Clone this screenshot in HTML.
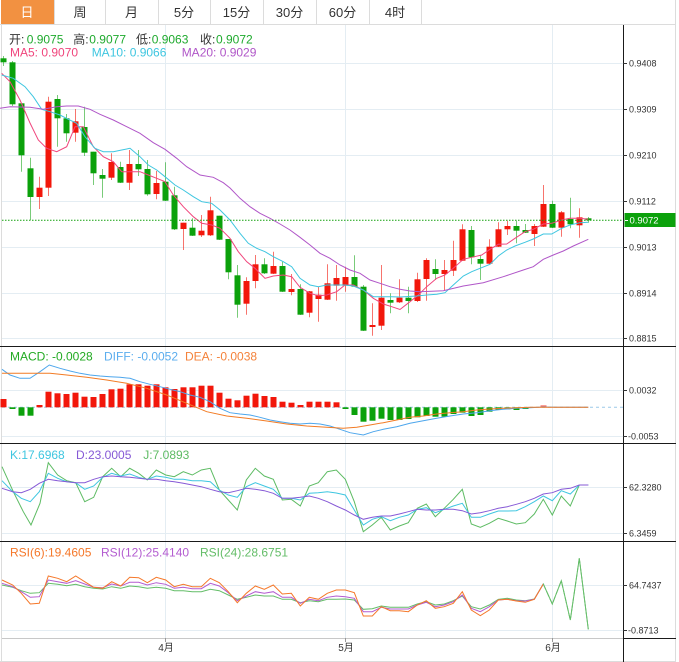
<!DOCTYPE html>
<html><head><meta charset="utf-8"><style>
html,body{margin:0;padding:0;background:#fff;}
svg{display:block;font-family:"Liberation Sans","Noto Sans CJK SC",sans-serif;}
</style></head><body>
<svg width="679" height="662" viewBox="0 0 679 662" xmlns="http://www.w3.org/2000/svg">
<rect x="0" y="0" width="679" height="662" fill="#fff"/>
<!-- tabs -->
<rect x="1" y="0" width="53" height="24" fill="#F29141"/>
<g stroke="#dcdcdc" stroke-width="1">
<line x1="54.5" y1="0" x2="54.5" y2="24"/><line x1="105.5" y1="0" x2="105.5" y2="24"/>
<line x1="158.5" y1="0" x2="158.5" y2="24"/><line x1="210.5" y1="0" x2="210.5" y2="24"/>
<line x1="263.5" y1="0" x2="263.5" y2="24"/><line x1="316.5" y1="0" x2="316.5" y2="24"/>
<line x1="369.5" y1="0" x2="369.5" y2="24"/><line x1="421.5" y1="0" x2="421.5" y2="24"/>
<line x1="0" y1="24.5" x2="676" y2="24.5"/>
<line x1="675.5" y1="0" x2="675.5" y2="662"/>
<line x1="1.5" y1="24" x2="1.5" y2="662"/>
<line x1="0" y1="661.5" x2="676" y2="661.5"/>
</g>
<g font-size="13" text-anchor="middle" fill="#333">
<text x="27" y="17" fill="#fff">日</text><text x="80" y="17">周</text><text x="131.5" y="17">月</text>
<text x="184" y="17">5分</text><text x="236.5" y="17">15分</text><text x="289.5" y="17">30分</text>
<text x="342.5" y="17">60分</text><text x="395" y="17">4时</text>
</g>
<!-- grid -->
<g stroke="#e4edf3" stroke-width="1">
<line x1="2" y1="63.5" x2="623" y2="63.5"/><line x1="2" y1="109.5" x2="623" y2="109.5"/>
<line x1="2" y1="155.5" x2="623" y2="155.5"/><line x1="2" y1="201.5" x2="623" y2="201.5"/>
<line x1="2" y1="247.5" x2="623" y2="247.5"/><line x1="2" y1="293.5" x2="623" y2="293.5"/>
<line x1="2" y1="338.5" x2="623" y2="338.5"/>
<line x1="2" y1="390.5" x2="623" y2="390.5"/><line x1="2" y1="436.5" x2="623" y2="436.5"/>
<line x1="2" y1="487.5" x2="623" y2="487.5"/><line x1="2" y1="533.5" x2="623" y2="533.5"/>
<line x1="2" y1="585.5" x2="623" y2="585.5"/><line x1="2" y1="630.5" x2="623" y2="630.5"/>
<line x1="165.5" y1="25" x2="165.5" y2="638"/><line x1="345.5" y1="25" x2="345.5" y2="638"/><line x1="552.5" y1="25" x2="552.5" y2="638"/>
</g>
<!-- separators -->
<g stroke="#1a1a1a" stroke-width="1">
<line x1="0" y1="346.5" x2="676" y2="346.5"/><line x1="0" y1="443.5" x2="676" y2="443.5"/>
<line x1="0" y1="541.5" x2="676" y2="541.5"/>
<line x1="623.5" y1="25" x2="623.5" y2="662"/>
<line x1="623" y1="638.5" x2="676" y2="638.5"/>
</g>
<line x1="2" y1="638.5" x2="623" y2="638.5" stroke="#c8c8c8"/>
<g stroke="#999"><line x1="165.5" y1="638" x2="165.5" y2="642"/><line x1="345.5" y1="638" x2="345.5" y2="642"/><line x1="552.5" y1="638" x2="552.5" y2="642"/></g>
<g font-size="10" fill="#333" text-anchor="middle"><text x="166" y="651">4月</text><text x="346" y="651">5月</text><text x="553" y="651">6月</text></g>
<!-- axis ticks & labels -->
<g stroke="#333"><line x1="623" y1="63.5" x2="627" y2="63.5"/><line x1="623" y1="109.5" x2="627" y2="109.5"/><line x1="623" y1="155.5" x2="627" y2="155.5"/><line x1="623" y1="201.5" x2="627" y2="201.5"/><line x1="623" y1="247.5" x2="627" y2="247.5"/><line x1="623" y1="293.5" x2="627" y2="293.5"/><line x1="623" y1="338.5" x2="627" y2="338.5"/><line x1="623" y1="390.5" x2="627" y2="390.5"/><line x1="623" y1="436.5" x2="627" y2="436.5"/><line x1="623" y1="487.5" x2="627" y2="487.5"/><line x1="623" y1="533.5" x2="627" y2="533.5"/><line x1="623" y1="585.5" x2="627" y2="585.5"/><line x1="623" y1="630.5" x2="627" y2="630.5"/></g>
<g font-size="9" fill="#333">
<text x="629" y="66.5">0.9408</text><text x="629" y="112.5">0.9309</text><text x="629" y="158.5">0.9210</text>
<text x="629" y="204.5">0.9112</text><text x="629" y="250.5">0.9013</text><text x="629" y="296.5">0.8914</text>
<text x="629" y="341.5">0.8815</text>
<text x="629" y="393.5">0.0032</text><text x="628" y="439.5">-0.0053</text>
<text x="629" y="490.5">62.3280</text><text x="629" y="536.5">6.3459</text>
<text x="629" y="588.5">64.7437</text><text x="628" y="633.5">-0.8713</text>
</g>
<!-- candles -->
<g stroke="#F2170B" stroke-opacity="0.6" stroke-width="1">
<line x1="39.5" y1="176.7" x2="39.5" y2="209"/><line x1="48.5" y1="96.7" x2="48.5" y2="196"/><line x1="75.5" y1="109" x2="75.5" y2="141.7"/><line x1="111.5" y1="153.3" x2="111.5" y2="180"/><line x1="129.5" y1="150" x2="129.5" y2="190"/><line x1="156.5" y1="171" x2="156.5" y2="199.3"/><line x1="183.5" y1="222.7" x2="183.5" y2="250"/><line x1="201.5" y1="215" x2="201.5" y2="237"/><line x1="210.5" y1="196.7" x2="210.5" y2="236"/><line x1="246.5" y1="277.3" x2="246.5" y2="314.7"/><line x1="255.5" y1="255" x2="255.5" y2="288.3"/><line x1="273.5" y1="251.7" x2="273.5" y2="274"/><line x1="291.5" y1="274" x2="291.5" y2="295.3"/><line x1="309.5" y1="291" x2="309.5" y2="317.3"/><line x1="318.5" y1="286.7" x2="318.5" y2="321.7"/><line x1="327.5" y1="264.3" x2="327.5" y2="300"/><line x1="336.5" y1="265" x2="336.5" y2="300.7"/><line x1="345.5" y1="266.7" x2="345.5" y2="291.7"/><line x1="372.5" y1="303.3" x2="372.5" y2="335.7"/><line x1="381.5" y1="265" x2="381.5" y2="330"/><line x1="399.5" y1="279.3" x2="399.5" y2="303"/><line x1="417.5" y1="272.7" x2="417.5" y2="302"/><line x1="426.5" y1="258.3" x2="426.5" y2="300.7"/><line x1="444.5" y1="260" x2="444.5" y2="290"/><line x1="453.5" y1="240.7" x2="453.5" y2="276"/><line x1="462.5" y1="224.3" x2="462.5" y2="261"/><line x1="489.5" y1="239.3" x2="489.5" y2="264"/><line x1="498.5" y1="222.3" x2="498.5" y2="247"/><line x1="507.5" y1="220.7" x2="507.5" y2="235"/><line x1="534.5" y1="224" x2="534.5" y2="246"/><line x1="543.5" y1="185" x2="543.5" y2="227"/><line x1="561.5" y1="211" x2="561.5" y2="236.7"/><line x1="579.5" y1="208.3" x2="579.5" y2="237.7"/>
</g>
<g stroke="#0BA10B" stroke-opacity="0.55" stroke-width="1">
<line x1="3.5" y1="56" x2="3.5" y2="66"/><line x1="12.5" y1="61" x2="12.5" y2="106"/><line x1="21.5" y1="103" x2="21.5" y2="171.7"/><line x1="30.5" y1="157.7" x2="30.5" y2="220"/><line x1="57.5" y1="95" x2="57.5" y2="146.7"/><line x1="66.5" y1="114" x2="66.5" y2="141.7"/><line x1="84.5" y1="106.7" x2="84.5" y2="156"/><line x1="93.5" y1="151.7" x2="93.5" y2="185"/><line x1="102.5" y1="169" x2="102.5" y2="197.7"/><line x1="120.5" y1="161.7" x2="120.5" y2="183"/><line x1="138.5" y1="150" x2="138.5" y2="176"/><line x1="147.5" y1="160" x2="147.5" y2="195.7"/><line x1="165.5" y1="162.3" x2="165.5" y2="201"/><line x1="174.5" y1="186.7" x2="174.5" y2="230"/><line x1="192.5" y1="218.3" x2="192.5" y2="236"/><line x1="219.5" y1="215.7" x2="219.5" y2="240"/><line x1="228.5" y1="239" x2="228.5" y2="279.3"/><line x1="237.5" y1="265" x2="237.5" y2="317.7"/><line x1="264.5" y1="258.3" x2="264.5" y2="274"/><line x1="282.5" y1="261.7" x2="282.5" y2="292"/><line x1="300.5" y1="284.3" x2="300.5" y2="315"/><line x1="354.5" y1="255.3" x2="354.5" y2="287"/><line x1="363.5" y1="285" x2="363.5" y2="331"/><line x1="390.5" y1="293.3" x2="390.5" y2="313.3"/><line x1="408.5" y1="286.7" x2="408.5" y2="313.3"/><line x1="435.5" y1="259.3" x2="435.5" y2="280"/><line x1="471.5" y1="226" x2="471.5" y2="264.3"/><line x1="480.5" y1="255" x2="480.5" y2="280"/><line x1="516.5" y1="220.7" x2="516.5" y2="243.3"/><line x1="525.5" y1="224" x2="525.5" y2="233"/><line x1="552.5" y1="200.7" x2="552.5" y2="228"/><line x1="570.5" y1="197.7" x2="570.5" y2="228.3"/><line x1="588.5" y1="217" x2="588.5" y2="222.7"/>
</g>
<g fill="#F2170B">
<rect x="36.5" y="187.7" width="6" height="9.3"/><rect x="45.5" y="101.7" width="6" height="86"/><rect x="72.5" y="121.3" width="6" height="11.4"/><rect x="108.5" y="162" width="6" height="15.7"/><rect x="126.5" y="164" width="6" height="18.7"/><rect x="153.5" y="183" width="6" height="11"/><rect x="180.5" y="222.7" width="6" height="6.3"/><rect x="198.5" y="230.7" width="6" height="4.6"/><rect x="207.5" y="210.3" width="6" height="25"/><rect x="243.5" y="281" width="6" height="22.7"/><rect x="252.5" y="264.3" width="6" height="16.7"/><rect x="270.5" y="266" width="6" height="7.7"/><rect x="288.5" y="289" width="6" height="3"/><rect x="306.5" y="291.3" width="6" height="21.4"/><rect x="315.5" y="294.7" width="6" height="4.3"/><rect x="324.5" y="283.3" width="6" height="16.4"/><rect x="333.5" y="278" width="6" height="7.7"/><rect x="342.5" y="277" width="6" height="8.7"/><rect x="369.5" y="325" width="6" height="2"/><rect x="378.5" y="297.7" width="6" height="28"/><rect x="396.5" y="297.7" width="6" height="4.6"/><rect x="414.5" y="279.3" width="6" height="21.7"/><rect x="423.5" y="260" width="6" height="19"/><rect x="441.5" y="270" width="6" height="4"/><rect x="450.5" y="260" width="6" height="10.7"/><rect x="459.5" y="229.3" width="6" height="31.4"/><rect x="486.5" y="246.7" width="6" height="17"/><rect x="495.5" y="229.3" width="6" height="17.4"/><rect x="504.5" y="226" width="6" height="3.3"/><rect x="531.5" y="226" width="6" height="8"/><rect x="540.5" y="204" width="6" height="22.7"/><rect x="558.5" y="212.3" width="6" height="15.4"/><rect x="576.5" y="217.3" width="6" height="8"/>
</g>
<g fill="#0BA10B">
<rect x="0.5" y="58.3" width="6" height="4"/><rect x="9.5" y="62.3" width="6" height="42"/><rect x="18.5" y="103.3" width="6" height="52"/><rect x="27.5" y="168.3" width="6" height="28.7"/><rect x="54.5" y="99" width="6" height="19.3"/><rect x="63.5" y="118.3" width="6" height="15"/><rect x="81.5" y="127" width="6" height="25.7"/><rect x="90.5" y="151.7" width="6" height="21.6"/><rect x="99.5" y="175" width="6" height="3.7"/><rect x="117.5" y="167" width="6" height="15.7"/><rect x="135.5" y="164" width="6" height="5.3"/><rect x="144.5" y="169" width="6" height="25.3"/><rect x="162.5" y="181.7" width="6" height="19"/><rect x="171.5" y="195.3" width="6" height="34"/><rect x="189.5" y="227.7" width="6" height="8"/><rect x="216.5" y="215.7" width="6" height="24"/><rect x="225.5" y="239" width="6" height="33.3"/><rect x="234.5" y="275.3" width="6" height="29.4"/><rect x="261.5" y="264.3" width="6" height="9"/><rect x="279.5" y="266" width="6" height="25.7"/><rect x="297.5" y="289" width="6" height="25.7"/><rect x="351.5" y="277" width="6" height="9.7"/><rect x="360.5" y="286.7" width="6" height="44"/><rect x="387.5" y="300" width="6" height="2.7"/><rect x="405.5" y="297.7" width="6" height="3.3"/><rect x="432.5" y="269" width="6" height="5"/><rect x="468.5" y="230" width="6" height="27.3"/><rect x="477.5" y="259" width="6" height="4.7"/><rect x="513.5" y="226" width="6" height="4.7"/><rect x="522.5" y="230" width="6" height="2.7"/><rect x="549.5" y="204" width="6" height="23.7"/><rect x="567.5" y="219" width="6" height="5.3"/><rect x="585.5" y="218.3" width="6" height="2"/>
</g>
<!-- MA lines -->
<g fill="none" stroke-width="1">
<polyline stroke="#F0457C" points="1.7,73.3 10,81.7 20,100 30,123 38.3,140 46.7,148.3 56.7,151.7 66.7,146.7 75,126.7 83.3,126.7 93.3,146.7 103.3,156.7 113.3,161.7 121.7,171.7 131.7,171.7 140,171.7 148.3,175 156.7,178.3 165,181.7 173.3,195 183.3,206.7 193.3,216.7 201.7,223.3 211.7,225 220,228.3 230,238.3 238.3,251.7 246.7,261.7 255,268.3 265,278.3 273.3,276 283.3,275 291.7,276.7 300,287.3 310,293.3 318.3,295.7 326.7,295 336.7,291.7 345,285 353.3,285 363.3,290 373.3,298.3 383.3,304 391.7,306.7 400,309.5 410,301.7 418.3,295 426.7,286.7 436.7,278.3 445,275 453.3,268.3 463.3,259.3 471.7,257.3 481.7,255 490,249.3 498.3,244.3 506.7,244 515,238.3 525,231.7 533.3,229.3 543.3,224 551.7,223.3 561.7,220 570,218.3 580,218.3 588.3,219.3"/>
<polyline stroke="#3EC6E0" points="1.7,75 13.3,78.3 25,86.7 33.3,96.7 41.7,109.3 50,111.7 60,115 68.3,119.3 76.7,123.3 85,136.7 95,148.3 103.3,151.7 113.3,151.7 121.7,150 130,148.3 140,156.7 148.3,165 156.7,170 165,176.7 175,185 183.3,190 193.3,196.7 201.7,201.7 211.7,203.3 220,210 230,220 240,233.3 248.3,243.3 256.7,248.3 265,251.7 273.3,256.7 283.3,261.7 291.7,266.7 300,278.3 310,285 318.3,286.7 326.7,285 336.7,285 345,285 353.3,286 363.3,290 373.3,296.7 383.3,296.7 391.7,296.7 400,297 416.7,296 426.7,295 436.7,294.3 445,292.7 453.3,285 463.3,276 471.7,271.7 480,268.3 490,264.3 498.3,256 506.7,250 515,246 525,242.3 533.3,239 543.3,234 551.7,234 561.7,228.3 570,225 580,222.7 588.3,222.3"/>
<polyline stroke="#B056C8" points="0,108.3 10,106.7 30,107.3 43.3,109.3 56.7,106.7 66.7,106 78.3,106 90,109.3 100,114.3 113.3,120 126.7,126.7 140,133.3 153.3,142.7 165,149.3 176.7,158.3 186.7,166.7 200,175 213.3,177.3 223.3,182.7 230,188 240,198.3 250,206.7 260,213.3 270,218.3 280,224 290,230 300,237.3 310,245 320,253.3 330,258.3 340,265 350,270 360,273.3 370,280 380,283.3 390,286.7 400,289.3 410,291 420,291.7 443.3,290.7 463.3,286 483.3,282.7 503.3,276.7 523.3,270 533.3,266.7 543.3,259.3 553.3,255 563.3,251 573.3,246 588.3,239.3"/>
</g>
<!-- current price -->
<line x1="2" y1="220.3" x2="623" y2="220.3" stroke="#13A10E" stroke-width="1" stroke-dasharray="1.5 1.5"/>
<rect x="624.5" y="213" width="51" height="14" fill="#0BA10B"/>
<line x1="625" y1="220.5" x2="628" y2="220.5" stroke="#fff"/>
<text x="629.5" y="223.7" font-size="9.5" fill="#fff">0.9072</text>
<!-- legend main -->
<g font-size="12">
<text x="9" y="43.5" fill="#333">开:</text><text x="26.7" y="43.5" fill="#1FAA2E">0.9075</text>
<text x="73.3" y="43.5" fill="#333">高:</text><text x="89.3" y="43.5" fill="#1FAA2E">0.9077</text>
<text x="136" y="43.5" fill="#333">低:</text><text x="151.7" y="43.5" fill="#1FAA2E">0.9063</text>
<text x="200" y="43.5" fill="#333">收:</text><text x="216" y="43.5" fill="#1FAA2E">0.9072</text>
<text x="10" y="56.5" fill="#F0457C">MA5: 0.9070</text>
<text x="91.7" y="56.5" fill="#3EC6E0">MA10: 0.9066</text>
<text x="181.7" y="56.5" fill="#B056C8">MA20: 0.9029</text>
</g>
<!-- MACD -->
<line x1="2" y1="407.3" x2="623" y2="407.3" stroke="#9cc9e8" stroke-dasharray="3 3"/>
<g fill="#F2170B">
<rect x="0.5" y="399" width="6" height="8.3"/><rect x="36.5" y="405" width="6" height="2.3"/><rect x="45.5" y="391.7" width="6" height="15.6"/><rect x="54.5" y="393.3" width="6" height="14"/><rect x="63.5" y="394" width="6" height="13.3"/><rect x="72.5" y="392.7" width="6" height="14.6"/><rect x="81.5" y="396.7" width="6" height="10.6"/><rect x="90.5" y="397" width="6" height="10.3"/><rect x="99.5" y="394" width="6" height="13.3"/><rect x="108.5" y="389.3" width="6" height="18"/><rect x="117.5" y="388.7" width="6" height="18.6"/><rect x="126.5" y="384.3" width="6" height="23"/><rect x="135.5" y="384.3" width="6" height="23"/><rect x="144.5" y="385.7" width="6" height="21.6"/><rect x="153.5" y="384.3" width="6" height="23"/><rect x="162.5" y="387.3" width="6" height="20"/><rect x="171.5" y="389" width="6" height="18.3"/><rect x="180.5" y="387.3" width="6" height="20"/><rect x="189.5" y="387.3" width="6" height="20"/><rect x="198.5" y="385.7" width="6" height="21.6"/><rect x="207.5" y="385.7" width="6" height="21.6"/><rect x="216.5" y="392.7" width="6" height="14.6"/><rect x="225.5" y="398.7" width="6" height="8.6"/><rect x="234.5" y="400.3" width="6" height="7"/><rect x="243.5" y="395.7" width="6" height="11.6"/><rect x="252.5" y="393.7" width="6" height="13.6"/><rect x="261.5" y="396" width="6" height="11.3"/><rect x="270.5" y="397" width="6" height="10.3"/><rect x="279.5" y="401.7" width="6" height="5.6"/><rect x="288.5" y="402.7" width="6" height="4.6"/><rect x="297.5" y="405" width="6" height="2.3"/><rect x="306.5" y="401.7" width="6" height="5.6"/><rect x="315.5" y="401.7" width="6" height="5.6"/><rect x="324.5" y="401.7" width="6" height="5.6"/><rect x="333.5" y="402.3" width="6" height="5"/><rect x="540.5" y="405.3" width="6" height="2" fill-opacity="0.6"/>
</g>
<g fill="#0BA10B">
<rect x="9.5" y="407.3" width="6" height="1.7"/><rect x="18.5" y="407.3" width="6" height="8.4"/><rect x="27.5" y="407.3" width="6" height="8.4"/><rect x="342.5" y="407.3" width="6" height="1.7"/><rect x="351.5" y="407.3" width="6" height="7.7"/><rect x="360.5" y="407.3" width="6" height="14.4"/><rect x="369.5" y="407.3" width="6" height="13.4"/><rect x="378.5" y="407.3" width="6" height="11.4"/><rect x="387.5" y="407.3" width="6" height="12.7"/><rect x="396.5" y="407.3" width="6" height="12.7"/><rect x="405.5" y="407.3" width="6" height="11.7"/><rect x="414.5" y="407.3" width="6" height="10"/><rect x="423.5" y="407.3" width="6" height="8.7"/><rect x="432.5" y="407.3" width="6" height="9.4"/><rect x="441.5" y="407.3" width="6" height="9.4"/><rect x="450.5" y="407.3" width="6" height="6.7"/><rect x="459.5" y="407.3" width="6" height="5.4"/><rect x="468.5" y="407.3" width="6" height="8.7"/><rect x="477.5" y="407.3" width="6" height="7.7"/><rect x="486.5" y="407.3" width="6" height="4.4"/><rect x="495.5" y="407.3" width="6" height="2.7"/><rect x="504.5" y="407.3" width="6" height="2"/><rect x="513.5" y="407.3" width="6" height="2.7"/><rect x="522.5" y="407.3" width="6" height="1.7"/>
</g>
<g fill="none" stroke-width="1">
<polyline stroke="#4DA6EC" points="2,369.3 10,375 20,378.3 30,378.3 40,371.7 49.3,365 60,368.3 70,371 80,373.3 90,375 100,376 110,376.7 120,377.3 130,378.3 140,381.7 150,384.3 160,386.7 170,389.3 180,391.7 190,395 200,397.3 210,401.7 220,408.3 230,412.7 240,414 250,415 260,417.3 270,420 280,421.7 290,423.3 300,424 310,423.3 320,424 330,426 340,429.3 350,432.7 363.3,435 373.3,431.7 383.3,429.3 396.7,426.7 410,423.3 423.3,420.7 436.7,418.3 450,416 463.3,414 476.7,412.7 490,410.7 503.3,409.3 516.7,408.3 530,407.7 543.3,407 556.7,407.3 588.3,407.3"/>
<polyline stroke="#F27B24" points="2,373.3 50,373.3 66.7,375 86.7,377.3 106.7,380 126.7,383.3 146.7,388.3 166.7,395 186.7,403.3 206.7,411.7 226.7,416 246.7,418.3 266.7,421 286.7,424 306.7,426 326.7,427.3 343.3,428.3 356.7,427.3 370,425 383.3,422.7 396.7,420 410,417.3 423.3,416 436.7,414 450,412.7 463.3,411.7 476.7,410 490,409 503.3,408.3 516.7,407.7 530,407.3 588.3,407.3"/>
</g>
<g font-size="12">
<text x="10" y="360.3" fill="#22AA22">MACD: -0.0028</text>
<text x="104" y="360.3" fill="#5BADEE">DIFF: -0.0052</text>
<text x="185" y="360.3" fill="#F4823A">DEA: -0.0038</text>
</g>
<!-- KDJ -->
<g fill="none" stroke-width="1">
<polyline stroke="#5DBB63" points="2,466.7 13.3,491.7 23.3,511.7 31,525 40,503.3 48.3,462.7 57.7,475 66.7,480.7 75.7,482.7 84.7,501.7 93.7,497.3 102.7,476.7 111.7,468.3 120.7,476.7 129.7,468.3 138.7,473.3 147.3,480 156.3,470 165.7,475 174.3,476.7 183.3,471.7 192.3,475 201.3,470 210.3,468.3 219.3,490 228.3,500 237.3,510 246.3,480 255.3,468.3 264.3,476 273.3,479.3 282.3,500 291.3,499.3 300.3,506 309.3,486 318.3,482.7 327.3,471.7 336.3,470 345.3,479.3 354.3,501.7 363.3,531.7 372.3,525 381.3,517.3 390.3,530 399.3,526 408.3,522.7 417.3,508.3 426.3,504 435.3,516.7 444.3,508.3 453.3,499.3 462.3,489.3 471.3,524 480.3,527.3 489.3,523.3 498.3,518.3 507.3,521 516.3,524 525.3,522.7 534.3,514 543.3,499.3 552.3,515 561.3,496 570.3,506 579.3,485 588.3,485"/>
<polyline stroke="#3EC6E0" points="2,480.7 12.7,491.7 21.3,498.3 30.3,501.7 39.3,491.7 48.3,473.3 57.7,478.3 66.7,481.7 75.7,482.7 84.7,489.3 93.7,486 102.7,477.3 111.7,473.3 120.7,476 129.7,474 138.7,477.3 147.3,479.3 156.3,476 165.7,477.3 174.3,479.3 183.3,479.3 192.3,480.7 201.3,480.7 210.3,481.7 219.3,490 228.3,495 237.3,497.3 246.3,486.7 255.3,482.7 264.3,486 273.3,489.3 282.3,498.3 291.3,498.3 300.3,500 309.3,493.3 318.3,492.7 327.3,491.7 336.3,493 345.3,495 354.3,510 363.3,525 372.3,519.3 381.3,516.7 390.3,520.7 399.3,517.3 408.3,515 417.3,509.3 426.3,507.7 435.3,512.7 444.3,509.3 453.3,506 462.3,503.3 471.3,517.3 480.3,517.3 489.3,514 498.3,511 507.3,511 516.3,510.7 525.3,506.7 534.3,501.7 543.3,496 552.3,500.7 561.3,490.7 570.3,494 579.3,485 588.3,485"/>
<polyline stroke="#8659D6" points="2,488.3 12.7,491.7 21.3,492.7 30.3,489.3 39.3,483.3 48.3,479.3 57.7,480.7 66.7,481.7 75.7,482.7 84.7,482.7 93.7,479.3 102.7,476.7 111.7,476 120.7,476.7 129.7,477.3 138.7,478.3 147.3,479.3 156.3,479.3 165.7,480.7 174.3,481.7 183.3,483.3 192.3,485 201.3,486.7 210.3,489.3 219.3,491.7 228.3,492.7 237.3,490.7 246.3,488.3 255.3,489.3 264.3,490.7 273.3,493.3 282.3,498.3 291.3,498.3 300.3,497.3 309.3,496 318.3,498.3 327.3,501.7 336.3,506 345.3,510 354.3,515 363.3,519.3 372.3,517.3 381.3,516 390.3,516 399.3,514 408.3,511.7 417.3,509.3 426.3,510 435.3,510 444.3,509.3 453.3,509.3 462.3,510.7 471.3,514 480.3,512.7 489.3,510.7 498.3,508.3 507.3,506.7 516.3,504.3 525.3,501.7 534.3,498.3 543.3,494 552.3,492.7 561.3,489.3 570.3,488.3 579.3,485 588.3,485"/>
</g>
<g font-size="12">
<text x="10" y="459" fill="#3EC6E0">K:17.6968</text>
<text x="76" y="459" fill="#8659D6">D:23.0005</text>
<text x="143.3" y="459" fill="#5DBB63">J:7.0893</text>
</g>
<!-- RSI -->
<g fill="none" stroke-width="1">
<polyline stroke="#64BD68" points="2,585 12.7,587.3 21.3,590.7 30.3,593.3 39.3,592.7 48.3,583.3 57.7,584.3 66.7,585.7 75.7,584.3 84.7,586.7 93.7,588.3 102.7,589 111.7,586.7 120.7,588.3 129.7,586 138.7,586.7 147.3,588.3 156.3,587.3 165.7,588.3 174.3,590.7 183.3,590.7 192.3,591.7 201.3,591.7 210.3,589.3 219.3,590.7 228.3,595 237.3,599.3 246.3,597.3 255.3,595 264.3,596 273.3,596 282.3,599.3 291.3,599.3 300.3,602.7 309.3,600.7 318.3,601.7 327.3,599.3 336.3,599.3 345.3,599 354.3,600 363.3,609.3 372.3,608.7 381.3,606 390.3,607.3 399.3,607.3 408.3,607.3 417.3,604 426.3,601.7 435.3,605 444.3,604 453.3,600.7 462.3,596 471.3,606.7 480.3,609 489.3,605 498.3,599.3 507.3,598.3 516.3,600 525.3,600.7 534.3,599 543.3,584 552.3,604 561.3,580.7 570.3,620 579.3,558.3 588.3,629.3"/>
<polyline stroke="#B35CD0" points="2,583.3 12.7,586.7 21.3,591.7 30.3,597.3 39.3,596.7 48.3,580 57.7,581.7 66.7,583.3 75.7,580.7 84.7,584 93.7,587.3 102.7,587.7 111.7,584 120.7,586 129.7,582.3 138.7,582.3 147.3,585 156.3,582.7 165.7,584.3 174.3,588.3 183.3,587.3 192.3,588.7 201.3,588.7 210.3,583.3 219.3,586 228.3,592.7 237.3,600.7 246.3,596 255.3,591.7 264.3,593.3 273.3,591.7 282.3,597.3 291.3,597.3 300.3,603.3 309.3,599.3 318.3,600.7 327.3,597.3 336.3,596 345.3,596.7 354.3,598.3 363.3,611.7 372.3,611.7 381.3,607.3 390.3,609 399.3,609 408.3,609 417.3,605 426.3,602.3 435.3,606.7 444.3,605 453.3,601.7 462.3,595 471.3,608.3 480.3,611.7 489.3,606.7 498.3,600 507.3,599.3 516.3,600.7 525.3,601 534.3,599.3 543.3,584"/>
<polyline stroke="#F5782A" points="2,580 12.7,585 21.3,593.3 30.3,604 39.3,603.3 48.3,576 57.7,578.3 66.7,581.7 75.7,576 84.7,581.7 93.7,587.3 102.7,588.3 111.7,581.7 120.7,586 129.7,577.3 138.7,577.7 147.3,582.7 156.3,577.3 165.7,580 174.3,586.7 183.3,584.3 192.3,586.7 201.3,586.7 210.3,578.3 219.3,582.7 228.3,591.7 237.3,602.7 246.3,593.3 255.3,586 264.3,589.3 273.3,585 282.3,594 291.3,593.3 300.3,606 309.3,597.3 318.3,599.3 327.3,593.3 336.3,590 345.3,590 354.3,592.7 363.3,616 372.3,616 381.3,606.7 390.3,610.7 399.3,610.7 408.3,611.7 417.3,605 426.3,600.7 435.3,608.3 444.3,606.7 453.3,603.3 462.3,591.7 471.3,610 480.3,615.7 489.3,610 498.3,600 507.3,599.3 516.3,601 525.3,602.3 534.3,599.3 543.3,584"/>
<polyline stroke="#64BD68" stroke-dasharray="6 2" points="543.3,584 552.3,604 561.3,580.7 570.3,620 579.3,558.3 588.3,629.3"/>
</g>
<g font-size="12">
<text x="10" y="556.3" fill="#F5782A">RSI(6):19.4605</text>
<text x="101" y="556.3" fill="#B35CD0">RSI(12):25.4140</text>
<text x="200" y="556.3" fill="#64BD68">RSI(24):28.6751</text>
</g>
</svg>
</body></html>
